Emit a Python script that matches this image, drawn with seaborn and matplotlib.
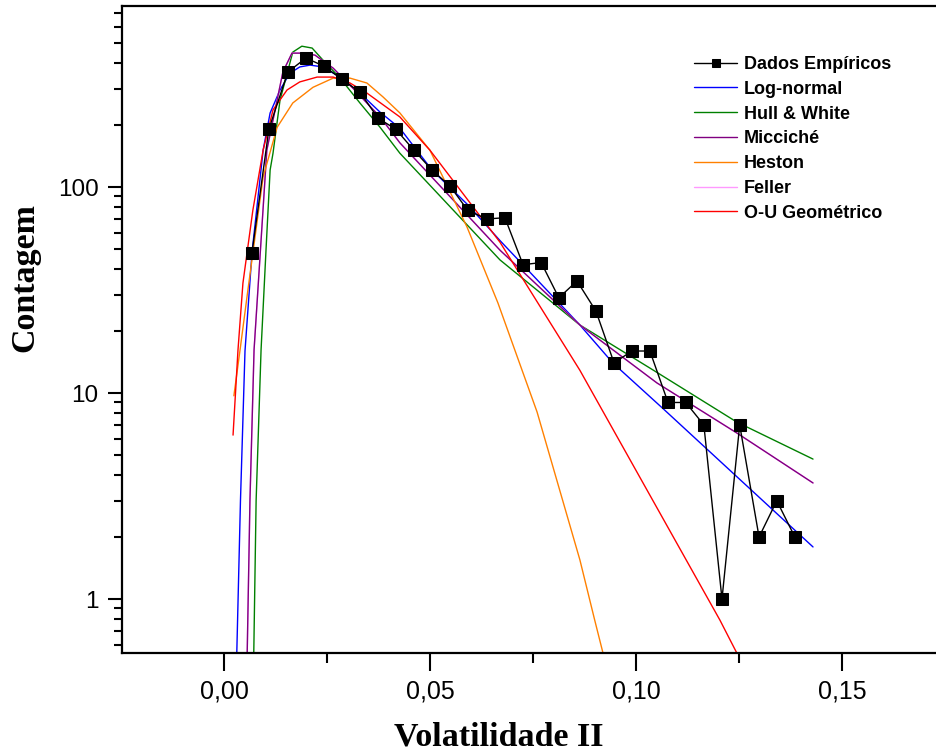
import numpy as np
import matplotlib
matplotlib.use("Agg")
import matplotlib.pyplot as plt
import seaborn as sns
from matplotlib.ticker import FixedLocator, FixedFormatter, LogLocator, NullFormatter

sns.set_style("ticks")
plt.rcParams['font.family'] = ['Liberation Sans', 'DejaVu Sans']
plt.rcParams.update({"text.color": "black", "axes.labelcolor": "black",
                     "xtick.color": "black", "ytick.color": "black"})

# Empirical histogram of volatility (bin centres and counts)
vol_bins = [0.0068, 0.0109, 0.0155, 0.0199, 0.0243, 0.0286, 0.0330, 0.0374, 0.0417,
            0.0461, 0.0505, 0.0549, 0.0592, 0.0638, 0.0682, 0.0726, 0.0770, 0.0813,
            0.0857, 0.0903, 0.0947, 0.0990, 0.1034, 0.1078, 0.1121, 0.1165, 0.1209,
            0.1252, 0.1299, 0.1342, 0.1386]
counts = [48, 191, 362, 423, 386, 334, 289, 216, 191, 151, 121, 101, 77, 70, 71, 42,
          43, 29, 35, 25, 14, 16, 16, 9, 9, 7, 1, 7, 2, 3, 2]

# Fitted densities (scaled to counts)
lognormal_x = [0.0031, 0.0040, 0.0051, 0.0068, 0.0095, 0.0112, 0.0136, 0.0160, 0.0184,
               0.0209, 0.0240, 0.0282, 0.0330, 0.0379, 0.0427, 0.0505, 0.0592, 0.0670,
               0.0864, 0.0944, 0.1066, 0.1430]
lognormal_y = [0.54, 3.0, 16, 48, 151, 229, 296, 357, 383, 391, 383, 342, 286, 231, 193,
               121, 82, 55, 21.4, 14, 8.4, 1.79]

hull_white_x = [0.0072, 0.0078, 0.0090, 0.0102, 0.0112, 0.0119, 0.0136, 0.0167, 0.0189,
                0.0214, 0.0240, 0.0282, 0.0330, 0.0379, 0.0427, 0.0670, 0.0864, 0.1051,
                0.1245, 0.1430]
hull_white_y = [0.5, 3.0, 16.2, 49.4, 121, 146, 264, 452, 483, 473, 414, 338, 256, 195,
                146, 44.3, 21.4, 12.6, 7.23, 4.78]

micciche_x = [0.0056, 0.0063, 0.0073, 0.0104, 0.0143, 0.0165, 0.0192, 0.0221, 0.0265,
              0.0313, 0.0379, 0.0427, 0.0670, 0.0864, 0.1051, 0.1245, 0.1430]
micciche_y = [0.5, 3.0, 16.2, 151, 362, 447, 447, 437, 378, 302, 219, 164, 49.4, 21.4,
              11.2, 6.4, 3.66]

heston_x = [0.0024, 0.0039, 0.0058, 0.0095, 0.0129, 0.0167, 0.0216, 0.0265, 0.0306,
            0.0347, 0.0386, 0.0427, 0.0500, 0.0590, 0.0665, 0.0760, 0.0864, 0.0900, 0.0925]
heston_y = [9.7, 16.2, 31.6, 112, 195, 256, 305, 338, 338, 320, 274, 229, 151, 64, 27.4,
            8.1, 1.55, 0.79, 0.5]

feller_x = micciche_x
feller_y = micciche_y

ou_x = [0.0022, 0.0034, 0.0046, 0.0070, 0.0095, 0.0119, 0.0153, 0.0184, 0.0226, 0.0265,
        0.0306, 0.0347, 0.0427, 0.0500, 0.0670, 0.0864, 0.1204, 0.1255]
ou_y = [6.25, 16.2, 34.2, 77, 151, 237, 296, 324, 342, 342, 320, 286, 219, 151, 54, 12.9,
        0.79, 0.5]

xtick_values = [0.00, 0.05, 0.10, 0.15]
xtick_labels = ['0,00', '0,05', '0,10', '0,15']
ytick_values = [1, 10, 100]
ytick_labels = ['1', '10', '100']

fig = plt.figure(figsize=(9.37, 7.54), dpi=100)
ax = fig.add_axes([122 / 937, 101 / 754, 1 - 122 / 937, 647 / 754])

curves = [
    ("Log-normal", lognormal_x, lognormal_y, "#0000ff"),
    ("Hull & White", hull_white_x, hull_white_y, "#008000"),
    ("Feller", feller_x, feller_y, "#ff99ff"),
    ("Micciché", micciche_x, micciche_y, "#800080"),
    ("Heston", heston_x, heston_y, "#ff8000"),
    ("O-U Geométrico", ou_x, ou_y, "#ff0000"),
]
for name, xs, ys, col in curves:
    sns.lineplot(x=xs, y=ys, color=col, lw=1.0, ax=ax, label=name,
                 estimator=None, sort=False)

sns.lineplot(x=vol_bins, y=counts, color="black", lw=1.0, marker="s", markersize=9,
             markeredgecolor="black", ax=ax, label="Dados Empíricos",
             estimator=None, sort=False, zorder=5)

ax.set_yscale("log")
ax.set_xlim(-0.02476, 0.1731)
ax.set_ylim(0.547, 757)

ax.xaxis.set_major_locator(FixedLocator(xtick_values))
ax.xaxis.set_major_formatter(FixedFormatter(xtick_labels))
ax.xaxis.set_minor_locator(FixedLocator([-0.025, 0.025, 0.075, 0.125, 0.175]))
ax.yaxis.set_major_locator(FixedLocator(ytick_values))
ax.yaxis.set_major_formatter(FixedFormatter(ytick_labels))
ax.yaxis.set_minor_locator(LogLocator(base=10, subs=np.arange(2, 10) * 1.0, numticks=20))
ax.yaxis.set_minor_formatter(NullFormatter())

ax.xaxis.set_ticks_position("bottom")
ax.yaxis.set_ticks_position("left")
ax.tick_params(axis="x", which="major", direction="out", length=13, width=1.5,
               labelsize=18, pad=6)
ax.tick_params(axis="x", which="minor", direction="out", length=7, width=1.5)
ax.tick_params(axis="y", which="major", direction="out", length=10, width=1.5,
               labelsize=17.5, pad=7)
ax.tick_params(axis="y", which="minor", direction="out", length=6, width=1.5)

for side in ["left", "bottom", "top"]:
    ax.spines[side].set_linewidth(1.6)
    ax.spines[side].set_color("black")
ax.spines["right"].set_visible(False)
ax.set_xlabel("")
ax.set_ylabel("")

fig.text(499 / 937, 1 - 745 / 754, "Volatilidade II", ha="center", va="baseline",
         fontfamily="Liberation Serif", fontweight="bold", fontsize=24.5)
fig.text(33 / 937, 1 - 277 / 754, "Contagem", rotation=90, rotation_mode="anchor",
         ha="center", va="baseline", fontfamily="Liberation Serif",
         fontweight="bold", fontsize=24.5)

handles, labels = ax.get_legend_handles_labels()
order = ["Dados Empíricos", "Log-normal", "Hull & White", "Micciché", "Heston",
         "Feller", "O-U Geométrico"]
hmap = dict(zip(labels, handles))
ax.legend([hmap[k] for k in order], order, loc="upper left",
          bbox_to_anchor=(694 / 937, 1 - 56 / 754), bbox_transform=fig.transFigure,
          frameon=False, borderpad=0, borderaxespad=0, handlelength=2.4,
          handletextpad=0.35, labelspacing=0.43, markerscale=0.63,
          prop={"family": "Liberation Sans", "weight": "bold", "size": 13})

fig.savefig("out.png", dpi=100, facecolor="white")
